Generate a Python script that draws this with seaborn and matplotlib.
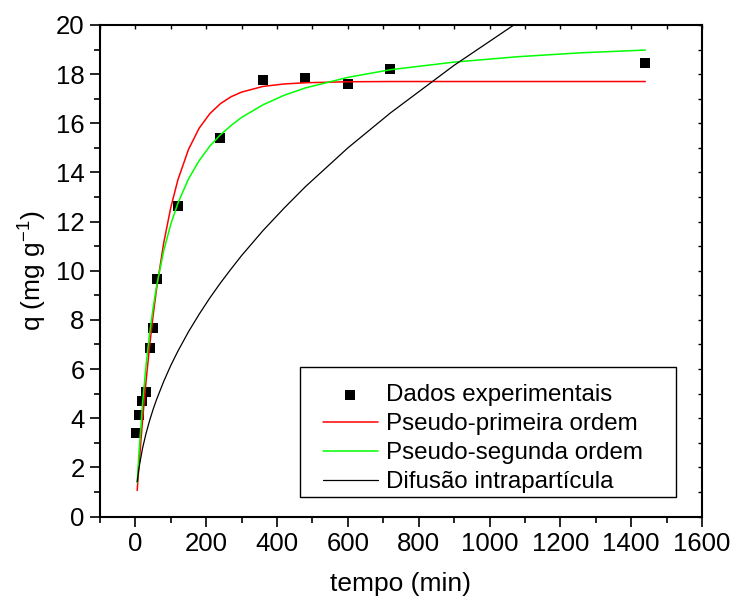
import numpy as np
import pandas as pd
import matplotlib
matplotlib.use("Agg")
import matplotlib.pyplot as plt
from matplotlib.patches import Rectangle
from matplotlib.ticker import MultipleLocator
import seaborn as sns

# Experimental adsorption data: time (min) vs. adsorbed amount q (mg/g)
tempo_exp = [3, 10, 20, 30, 40, 50, 60, 120, 240, 360, 480, 600, 720, 1440]
q_exp = [3.38, 4.12, 4.72, 5.05, 6.84, 7.66, 9.65, 12.63, 15.40, 17.76, 17.84, 17.58, 18.20, 18.44]

# Kinetic model curves (values along each fitted curve)
tempo_mod = [5, 10, 20, 30, 40, 50, 60, 80, 100, 120, 150, 180, 210, 240, 270, 300,
             360, 420, 480, 600, 720, 900, 1080, 1260, 1440]
q_ppo = [1.06, 2.06, 3.89, 5.50, 6.92, 8.18, 9.29, 11.14, 12.58, 13.70, 14.94, 15.80,
         16.39, 16.80, 17.08, 17.27, 17.50, 17.60, 17.65, 17.69, 17.70, 17.70, 17.70,
         17.70, 17.70]
q_pso = [1.38, 2.58, 4.57, 6.15, 7.43, 8.49, 9.39, 10.82, 11.90, 12.75, 13.74, 14.48,
         15.07, 15.53, 15.91, 16.24, 16.75, 17.14, 17.44, 17.87, 18.18, 18.49, 18.71,
         18.87, 18.98]
q_dif = [1.41, 1.97, 2.77, 3.38, 3.90, 4.36, 4.77, 5.50, 6.15, 6.73, 7.52, 8.23,
         8.89, 9.50, 10.07, 10.62, 11.63, 12.55, 13.42, 15.00, 16.42, 18.36, 20.11,
         21.71, 23.21]

x_ticks = [0, 200, 400, 600, 800, 1000, 1200, 1400, 1600]
y_ticks = [0, 2, 4, 6, 8, 10, 12, 14, 16, 18, 20]

sns.set_style("ticks")
plt.rcParams["font.family"] = ["Liberation Sans", "DejaVu Sans"]
plt.rcParams["mathtext.fontset"] = "custom"
plt.rcParams["mathtext.rm"] = "Liberation Sans"
plt.rcParams["mathtext.it"] = "Liberation Sans:italic"
plt.rcParams["mathtext.bf"] = "Liberation Sans:bold"
for key in ["text.color", "axes.labelcolor", "xtick.color", "ytick.color",
            "xtick.labelcolor", "ytick.labelcolor"]:
    plt.rcParams[key] = "black"

df_exp = pd.DataFrame({"tempo": tempo_exp, "q": q_exp})
df_mod = pd.DataFrame({"tempo": tempo_mod, "ppo": q_ppo, "pso": q_pso, "dif": q_dif})

fig = plt.figure(figsize=(7.31, 6.03), dpi=100)
ax = fig.add_axes([100 / 731, (603 - 516.5) / 603, 602 / 731, 491.5 / 603])

sns.scatterplot(data=df_exp, x="tempo", y="q", ax=ax, marker="s", s=60,
                color="black", linewidth=0, label="Dados experimentais", zorder=2)
sns.lineplot(data=df_mod, x="tempo", y="ppo", ax=ax, color="#ff0000", lw=1.1,
             label="Pseudo-primeira ordem", estimator=None, zorder=3)
sns.lineplot(data=df_mod, x="tempo", y="pso", ax=ax, color="#00ff00", lw=1.1,
             label="Pseudo-segunda ordem", estimator=None, zorder=3)
sns.lineplot(data=df_mod, x="tempo", y="dif", ax=ax, color="black", lw=0.9,
             label="Difusão intrapartícula", estimator=None, zorder=3)

ax.set_xlim(-100, 1600)
ax.set_ylim(0, 20)
ax.set_xticks(x_ticks)
ax.set_yticks(y_ticks)
ax.xaxis.set_minor_locator(MultipleLocator(100))
ax.yaxis.set_minor_locator(MultipleLocator(1))

for side in ["top", "right", "bottom", "left"]:
    ax.spines[side].set_visible(True)
    ax.spines[side].set_linewidth(1.5)
    ax.spines[side].set_color("black")

ax.tick_params(axis="both", which="major", direction="out", length=7, width=1.2,
               color="black", labelcolor="black", labelsize=18.5, pad=4)
ax.tick_params(axis="both", which="minor", direction="out", length=4, width=1.2,
               color="black")

# mirrored inward ticks on the top and right spines
sec_x = ax.secondary_xaxis("top")
sec_x.set_xticks(x_ticks)
sec_x.xaxis.set_minor_locator(MultipleLocator(100))
sec_x.tick_params(which="both", direction="in", length=3, width=1.0, labeltop=False)
sec_x.spines["top"].set_visible(False)
sec_y = ax.secondary_yaxis("right")
sec_y.set_yticks(y_ticks)
sec_y.yaxis.set_minor_locator(MultipleLocator(1))
sec_y.tick_params(which="both", direction="in", length=3, width=1.0, labelright=False)
sec_y.spines["right"].set_visible(False)

ax.set_xlabel("tempo (min)", fontsize=19, labelpad=12, color="black")
ax.set_ylabel("q (mg g$^{-1}$)", fontsize=19, labelpad=5, color="black")

leg = ax.legend(loc="upper left", bbox_to_anchor=(0.3704, 0.2696), borderaxespad=0,
                borderpad=0, frameon=False, fontsize=17.4, handlelength=2.27,
                handletextpad=0.33, labelspacing=0.29)
for txt in leg.get_texts():
    txt.set_color("black")
ax.add_patch(Rectangle((0.3322, 0.0391), 0.9563 - 0.3322, 0.3048 - 0.0391,
                       transform=ax.transAxes, fill=False, edgecolor="black",
                       lw=1.0, zorder=5))

fig.savefig("out.png", dpi=100, facecolor="white")
